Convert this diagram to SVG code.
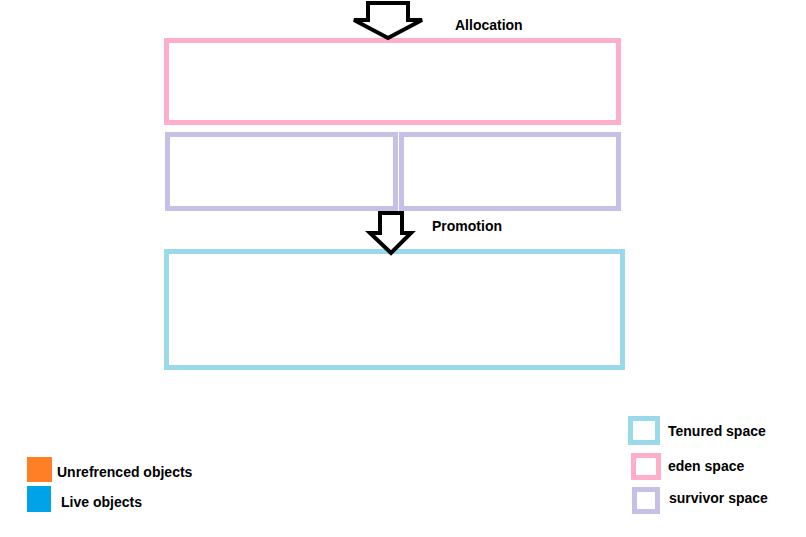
<svg xmlns="http://www.w3.org/2000/svg" width="806" height="537" viewBox="0 0 806 537">
<style>
.lbl{font-family:"Liberation Sans",Arial,sans-serif;font-weight:bold;font-size:14px;fill:#000}
.eden{fill:none;stroke:#FFAEC9;stroke-width:5}
.surv{fill:none;stroke:#C8BFE7;stroke-width:5}
.ten{fill:none;stroke:#99D9EA;stroke-width:5}
.arr{fill:#fff;stroke:#000;stroke-width:4;stroke-linejoin:miter}
</style>
<rect width="806" height="537" fill="#fff"/>
<g id="eden"><rect class="eden" x="166.5" y="40.5" width="452" height="82"/></g>
<g id="survivor-left"><rect class="surv" x="167.5" y="134.5" width="228" height="74"/></g>
<g id="survivor-right"><rect class="surv" x="401.5" y="134.5" width="217" height="74"/></g>
<g id="tenured"><rect class="ten" x="166.5" y="251.5" width="456" height="116"/></g>
<g id="connectors">
<path class="arr" d="M368,3 H408 V20 H422 L388,38 L354,20 H368 Z"/>
<path class="arr" d="M380,213 H402 V233 H411 L391,253 L370,233 H380 Z"/>
</g>
<g id="label-allocation"><text class="lbl" x="455" y="30">Allocation</text></g>
<g id="label-promotion"><text class="lbl" x="432" y="231">Promotion</text></g>
<g id="legend-tenured"><rect class="ten" x="630.5" y="418.5" width="27" height="24"/><text class="lbl" x="668" y="436">Tenured space</text></g>
<g id="legend-eden"><rect class="eden" x="633.5" y="455.5" width="25" height="22"/><text class="lbl" x="668" y="471">eden space</text></g>
<g id="legend-survivor"><rect class="surv" x="634.5" y="489.5" width="23" height="22"/><text class="lbl" x="669" y="503">survivor space</text></g>
<g id="legend-unref"><rect x="27" y="457" width="25" height="25" fill="#FF7F27"/><text class="lbl" x="57" y="477">Unrefrenced objects</text></g>
<g id="legend-live"><rect x="27" y="486" width="24" height="26" fill="#00A2E8"/><text class="lbl" x="61" y="507">Live objects</text></g>
</svg>
